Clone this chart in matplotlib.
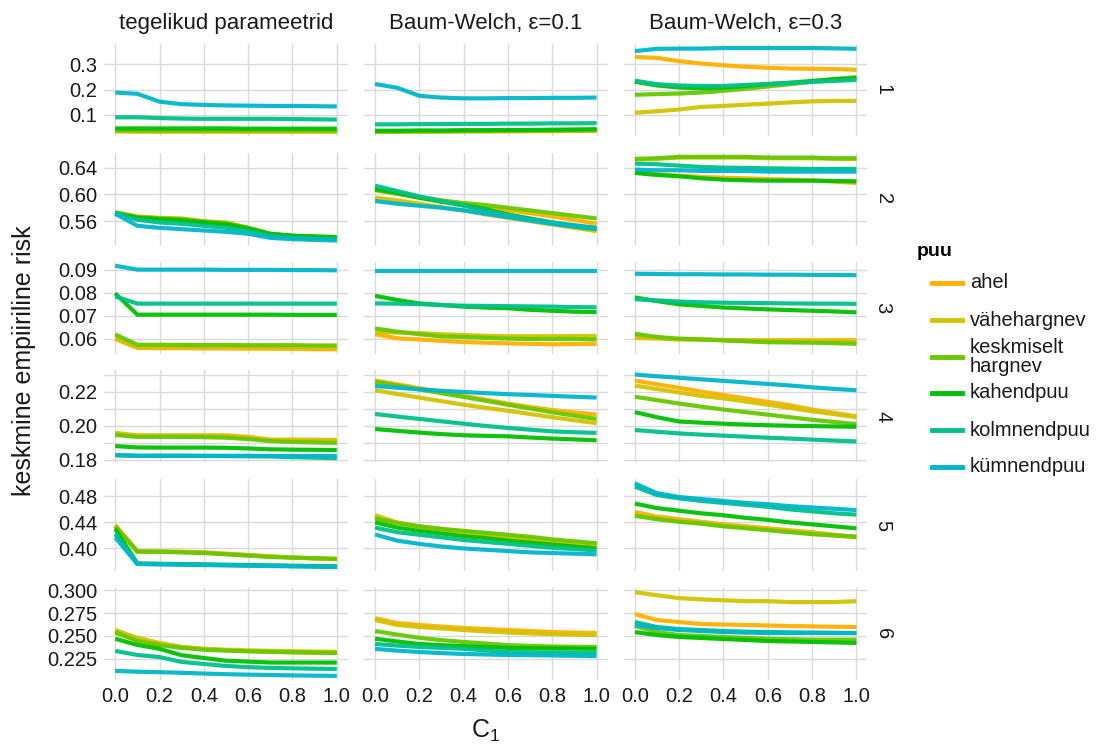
import matplotlib.pyplot as plt
from matplotlib.lines import Line2D
from matplotlib.ticker import FormatStrFormatter

plt.rcParams["font.family"] = ["Liberation Sans", "DejaVu Sans"]
plt.rcParams["mathtext.default"] = "regular"

# x values (C1)
c1 = [0.0, 0.1, 0.2, 0.3, 0.4, 0.5, 0.6, 0.7, 0.8, 0.9, 1.0]

puu = ["ahel", "vähehargnev", "keskmiselt\nhargnev", "kahendpuu", "kolmnendpuu", "kümnendpuu"]
colors = ["#FFB000", "#D2C200", "#66C800", "#00C000", "#00C08A", "#00B6CC"]

col_labels = ["tegelikud parameetrid", "Baum-Welch, ε=0.1", "Baum-Welch, ε=0.3"]
row_labels = ["1", "2", "3", "4", "5", "6"]

# each block: one list per tree type (ahel ... kümnendpuu), 11 values over c1
r1_teg = [
    [0.034, 0.033, 0.033, 0.033, 0.033, 0.033, 0.033, 0.033, 0.033, 0.033, 0.033],
    [0.036, 0.035, 0.035, 0.035, 0.035, 0.035, 0.035, 0.035, 0.035, 0.035, 0.035],
    [0.039, 0.038, 0.038, 0.038, 0.038, 0.038, 0.038, 0.038, 0.038, 0.038, 0.037],
    [0.046, 0.046, 0.046, 0.046, 0.046, 0.046, 0.045, 0.045, 0.045, 0.045, 0.045],
    [0.090, 0.090, 0.087, 0.085, 0.084, 0.084, 0.084, 0.084, 0.083, 0.082, 0.081],
    [0.188, 0.183, 0.152, 0.142, 0.139, 0.137, 0.136, 0.135, 0.135, 0.134, 0.133],
]
r1_bw1 = [
    [0.033, 0.033, 0.033, 0.034, 0.034, 0.034, 0.035, 0.035, 0.035, 0.036, 0.036],
    [0.033, 0.033, 0.034, 0.034, 0.035, 0.035, 0.035, 0.036, 0.036, 0.037, 0.037],
    [0.034, 0.034, 0.035, 0.035, 0.036, 0.037, 0.037, 0.038, 0.038, 0.039, 0.040],
    [0.037, 0.037, 0.038, 0.038, 0.039, 0.039, 0.040, 0.040, 0.041, 0.042, 0.043],
    [0.062, 0.062, 0.063, 0.063, 0.064, 0.064, 0.065, 0.065, 0.066, 0.066, 0.067],
    [0.222, 0.207, 0.175, 0.168, 0.165, 0.165, 0.166, 0.166, 0.167, 0.167, 0.168],
]
r1_bw3 = [
    [0.329, 0.325, 0.312, 0.303, 0.296, 0.290, 0.286, 0.283, 0.282, 0.281, 0.278],
    [0.108, 0.114, 0.121, 0.131, 0.135, 0.140, 0.144, 0.149, 0.153, 0.155, 0.155],
    [0.179, 0.182, 0.184, 0.188, 0.195, 0.203, 0.212, 0.221, 0.231, 0.242, 0.249],
    [0.231, 0.216, 0.208, 0.205, 0.208, 0.214, 0.221, 0.227, 0.234, 0.240, 0.245],
    [0.235, 0.221, 0.216, 0.214, 0.214, 0.218, 0.222, 0.226, 0.230, 0.234, 0.238],
    [0.352, 0.361, 0.362, 0.362, 0.364, 0.364, 0.364, 0.364, 0.364, 0.363, 0.361],
]

r2_teg = [
    [0.573, 0.567, 0.565, 0.564, 0.560, 0.558, 0.550, 0.541, 0.538, 0.536, 0.535],
    [0.572, 0.566, 0.564, 0.563, 0.559, 0.557, 0.549, 0.540, 0.538, 0.536, 0.535],
    [0.573, 0.566, 0.564, 0.563, 0.559, 0.557, 0.550, 0.541, 0.538, 0.537, 0.536],
    [0.572, 0.565, 0.563, 0.561, 0.558, 0.555, 0.549, 0.541, 0.538, 0.537, 0.536],
    [0.572, 0.562, 0.558, 0.556, 0.553, 0.550, 0.545, 0.538, 0.535, 0.534, 0.533],
    [0.571, 0.553, 0.550, 0.548, 0.546, 0.544, 0.541, 0.535, 0.533, 0.532, 0.531],
]
r2_bw1 = [
    [0.606, 0.601, 0.595, 0.589, 0.584, 0.580, 0.576, 0.572, 0.567, 0.562, 0.556],
    [0.595, 0.591, 0.586, 0.581, 0.576, 0.570, 0.565, 0.560, 0.555, 0.550, 0.545],
    [0.607, 0.601, 0.596, 0.591, 0.587, 0.584, 0.580, 0.576, 0.572, 0.568, 0.564],
    [0.608, 0.602, 0.595, 0.589, 0.584, 0.578, 0.570, 0.564, 0.558, 0.552, 0.548],
    [0.613, 0.605, 0.597, 0.590, 0.583, 0.576, 0.569, 0.563, 0.558, 0.554, 0.550],
    [0.590, 0.586, 0.583, 0.580, 0.576, 0.571, 0.566, 0.561, 0.556, 0.552, 0.549],
]
r2_bw3 = [
    [0.633, 0.630, 0.628, 0.626, 0.625, 0.624, 0.623, 0.622, 0.621, 0.619, 0.617],
    [0.652, 0.653, 0.655, 0.655, 0.655, 0.655, 0.654, 0.654, 0.654, 0.653, 0.653],
    [0.653, 0.654, 0.656, 0.656, 0.656, 0.656, 0.655, 0.655, 0.655, 0.654, 0.654],
    [0.632, 0.629, 0.627, 0.624, 0.622, 0.621, 0.6205, 0.6205, 0.6205, 0.620, 0.6195],
    [0.646, 0.645, 0.643, 0.641, 0.640, 0.6395, 0.639, 0.6385, 0.638, 0.638, 0.638],
    [0.637, 0.636, 0.636, 0.635, 0.635, 0.635, 0.634, 0.634, 0.634, 0.634, 0.634],
]

r3_teg = [
    [0.0598, 0.0559, 0.0558, 0.0558, 0.0557, 0.0557, 0.0556, 0.0556, 0.0555, 0.0554, 0.0553],
    [0.0600, 0.0563, 0.0563, 0.0563, 0.0563, 0.0563, 0.0563, 0.0563, 0.0562, 0.0562, 0.0562],
    [0.0618, 0.0573, 0.0573, 0.0572, 0.0572, 0.0572, 0.0571, 0.0571, 0.0571, 0.0570, 0.0570],
    [0.0797, 0.0704, 0.0704, 0.0704, 0.0704, 0.0704, 0.0704, 0.0704, 0.0703, 0.0703, 0.0703],
    [0.0783, 0.0752, 0.0752, 0.0752, 0.0752, 0.0752, 0.0752, 0.0752, 0.0752, 0.0752, 0.0752],
    [0.0917, 0.0900, 0.0900, 0.0900, 0.0900, 0.0899, 0.0899, 0.0899, 0.0898, 0.0898, 0.0897],
]
r3_bw1 = [
    [0.0619, 0.0601, 0.0596, 0.0590, 0.0585, 0.0582, 0.0579, 0.0577, 0.0575, 0.0576, 0.0577],
    [0.0627, 0.0626, 0.0624, 0.0619, 0.0615, 0.0612, 0.0610, 0.0610, 0.0610, 0.0611, 0.0611],
    [0.0644, 0.0630, 0.0619, 0.0609, 0.0607, 0.0603, 0.0600, 0.0598, 0.0598, 0.0598, 0.0596],
    [0.0786, 0.0768, 0.0753, 0.0746, 0.0739, 0.0735, 0.0732, 0.0725, 0.0721, 0.0717, 0.0715],
    [0.0753, 0.0752, 0.0750, 0.0746, 0.0743, 0.0742, 0.0741, 0.0740, 0.0739, 0.0737, 0.0736],
    [0.0896, 0.0896, 0.0896, 0.0896, 0.0896, 0.0896, 0.0896, 0.0896, 0.0896, 0.0896, 0.0896],
]
r3_bw3 = [
    [0.0603, 0.0600, 0.0596, 0.0595, 0.0594, 0.0593, 0.0593, 0.0593, 0.0593, 0.0593, 0.0593],
    [0.0610, 0.0604, 0.0599, 0.0596, 0.0593, 0.0591, 0.0589, 0.0587, 0.0586, 0.0585, 0.0584],
    [0.0621, 0.0607, 0.0599, 0.0596, 0.0592, 0.0588, 0.0584, 0.0583, 0.0582, 0.0580, 0.0577],
    [0.0779, 0.0763, 0.0749, 0.0742, 0.0735, 0.0731, 0.0727, 0.0724, 0.0721, 0.0718, 0.0714],
    [0.0771, 0.0766, 0.0761, 0.0758, 0.0756, 0.0755, 0.0754, 0.0753, 0.0752, 0.0752, 0.0751],
    [0.0882, 0.0881, 0.0880, 0.0880, 0.0879, 0.0879, 0.0878, 0.0878, 0.0877, 0.0877, 0.0876],
]

r4_teg = [
    [0.1958, 0.1944, 0.1944, 0.1944, 0.1944, 0.1944, 0.1935, 0.1919, 0.1919, 0.1918, 0.1917],
    [0.1953, 0.1940, 0.1940, 0.1940, 0.1940, 0.1939, 0.1930, 0.1915, 0.1914, 0.1914, 0.1913],
    [0.1946, 0.1935, 0.1935, 0.1935, 0.1933, 0.1930, 0.1922, 0.1910, 0.1905, 0.1902, 0.1900],
    [0.1881, 0.1873, 0.1872, 0.1872, 0.1872, 0.1871, 0.1867, 0.1862, 0.1860, 0.1859, 0.1858],
    [0.1827, 0.1823, 0.1823, 0.1823, 0.1823, 0.1822, 0.1821, 0.1820, 0.1816, 0.1813, 0.1810],
    [0.1829, 0.1825, 0.1825, 0.1825, 0.1824, 0.1824, 0.1824, 0.1823, 0.1823, 0.1823, 0.1823],
]
r4_bw1 = [
    [0.2265, 0.2243, 0.2220, 0.2198, 0.2175, 0.2153, 0.2130, 0.2110, 0.2092, 0.2078, 0.2065],
    [0.2208, 0.2186, 0.2165, 0.2144, 0.2123, 0.2105, 0.2088, 0.2069, 0.2050, 0.2032, 0.2015],
    [0.2258, 0.2235, 0.2213, 0.2191, 0.2169, 0.2146, 0.2123, 0.2101, 0.2079, 0.2059, 0.2040],
    [0.1981, 0.1970, 0.1960, 0.1951, 0.1944, 0.1941, 0.1938, 0.1931, 0.1925, 0.1920, 0.1915],
    [0.2069, 0.2054, 0.2040, 0.2026, 0.2012, 0.1999, 0.1987, 0.1977, 0.1967, 0.1962, 0.1958],
    [0.2233, 0.2223, 0.2213, 0.2205, 0.2198, 0.2191, 0.2185, 0.2180, 0.2175, 0.2170, 0.2165],
]
r4_bw3 = [
    [0.2265, 0.2243, 0.2222, 0.2200, 0.2180, 0.2160, 0.2140, 0.2120, 0.2095, 0.2075, 0.2055],
    [0.2235, 0.2215, 0.2195, 0.2175, 0.2160, 0.2142, 0.2123, 0.2105, 0.2085, 0.2068, 0.2050],
    [0.2170, 0.2150, 0.2130, 0.2112, 0.2095, 0.2080, 0.2065, 0.2050, 0.2035, 0.2022, 0.2010],
    [0.2080, 0.2050, 0.2025, 0.2018, 0.2012, 0.2007, 0.2003, 0.2000, 0.1998, 0.1996, 0.1994],
    [0.1975, 0.1965, 0.1955, 0.1948, 0.1942, 0.1936, 0.1930, 0.1925, 0.1919, 0.1913, 0.1908],
    [0.2300, 0.2290, 0.2281, 0.2272, 0.2263, 0.2254, 0.2245, 0.2236, 0.2225, 0.2216, 0.2208],
]

r5_teg = [
    [0.436, 0.396, 0.3955, 0.395, 0.394, 0.392, 0.390, 0.388, 0.386, 0.385, 0.384],
    [0.434, 0.3955, 0.395, 0.3945, 0.3935, 0.3915, 0.3895, 0.3875, 0.386, 0.3845, 0.3835],
    [0.434, 0.395, 0.395, 0.394, 0.393, 0.391, 0.389, 0.387, 0.386, 0.385, 0.384],
    [0.430, 0.377, 0.3765, 0.376, 0.3755, 0.375, 0.3745, 0.374, 0.3735, 0.373, 0.3725],
    [0.422, 0.3765, 0.376, 0.3755, 0.375, 0.3745, 0.374, 0.3735, 0.373, 0.3725, 0.372],
    [0.417, 0.376, 0.3755, 0.375, 0.3745, 0.374, 0.3735, 0.373, 0.3725, 0.372, 0.3715],
]
r5_bw1 = [
    [0.448, 0.439, 0.433, 0.429, 0.425, 0.421, 0.418, 0.414, 0.411, 0.408, 0.405],
    [0.451, 0.440, 0.434, 0.430, 0.426, 0.422, 0.418, 0.414, 0.411, 0.408, 0.405],
    [0.446, 0.439, 0.434, 0.430, 0.427, 0.424, 0.421, 0.418, 0.414, 0.411, 0.408],
    [0.440, 0.432, 0.427, 0.423, 0.419, 0.416, 0.412, 0.409, 0.406, 0.403, 0.400],
    [0.432, 0.425, 0.421, 0.417, 0.413, 0.410, 0.407, 0.404, 0.401, 0.399, 0.397],
    [0.4215, 0.412, 0.407, 0.403, 0.400, 0.398, 0.396, 0.394, 0.393, 0.392, 0.391],
]
r5_bw3 = [
    [0.456, 0.449, 0.445, 0.441, 0.437, 0.434, 0.431, 0.428, 0.425, 0.421, 0.418],
    [0.453, 0.446, 0.442, 0.439, 0.435, 0.432, 0.429, 0.426, 0.423, 0.420, 0.417],
    [0.450, 0.445, 0.441, 0.438, 0.434, 0.431, 0.428, 0.425, 0.422, 0.420, 0.418],
    [0.469, 0.462, 0.458, 0.454, 0.451, 0.447, 0.444, 0.440, 0.437, 0.434, 0.431],
    [0.495, 0.482, 0.477, 0.473, 0.470, 0.467, 0.464, 0.460, 0.457, 0.454, 0.452],
    [0.500, 0.485, 0.479, 0.476, 0.473, 0.470, 0.468, 0.465, 0.463, 0.461, 0.459],
]

r6_teg = [
    [0.2532, 0.2456, 0.2415, 0.2380, 0.2358, 0.2345, 0.2335, 0.2328, 0.2322, 0.2318, 0.2315],
    [0.2565, 0.2480, 0.2424, 0.2380, 0.2360, 0.2350, 0.2343, 0.2338, 0.2334, 0.2330, 0.2327],
    [0.2543, 0.2445, 0.2400, 0.2370, 0.2350, 0.2340, 0.2333, 0.2327, 0.2322, 0.2318, 0.2315],
    [0.2470, 0.2402, 0.2360, 0.2290, 0.2260, 0.2230, 0.2220, 0.2210, 0.2210, 0.2210, 0.2210],
    [0.2337, 0.2293, 0.2270, 0.2217, 0.2195, 0.2173, 0.2160, 0.2152, 0.2147, 0.2143, 0.2140],
    [0.2119, 0.2110, 0.2105, 0.2098, 0.2090, 0.2083, 0.2078, 0.2074, 0.2070, 0.2067, 0.2065],
]
r6_bw1 = [
    [0.2695, 0.2640, 0.2620, 0.2603, 0.2587, 0.2576, 0.2565, 0.2554, 0.2543, 0.2538, 0.2532],
    [0.2674, 0.2620, 0.2598, 0.2582, 0.2565, 0.2550, 0.2538, 0.2528, 0.2520, 0.2515, 0.2510],
    [0.2554, 0.2515, 0.2480, 0.2455, 0.2435, 0.2418, 0.2400, 0.2392, 0.2385, 0.2382, 0.2380],
    [0.2470, 0.2440, 0.2413, 0.2400, 0.2390, 0.2380, 0.2370, 0.2367, 0.2364, 0.2362, 0.2360],
    [0.2413, 0.2395, 0.2380, 0.2370, 0.2360, 0.2342, 0.2325, 0.2322, 0.2320, 0.2317, 0.2315],
    [0.2360, 0.2340, 0.2325, 0.2313, 0.2304, 0.2298, 0.2293, 0.2290, 0.2287, 0.2284, 0.2280],
]
r6_bw3 = [
    [0.2739, 0.2674, 0.2652, 0.2630, 0.2625, 0.2620, 0.2615, 0.2609, 0.2605, 0.2601, 0.2598],
    [0.2978, 0.2945, 0.2913, 0.2900, 0.2890, 0.2880, 0.2880, 0.2870, 0.2870, 0.2870, 0.2880],
    [0.2609, 0.2543, 0.2510, 0.2500, 0.2489, 0.2480, 0.2470, 0.2465, 0.2460, 0.2460, 0.2460],
    [0.2543, 0.2510, 0.2489, 0.2478, 0.2467, 0.2456, 0.2445, 0.2440, 0.2435, 0.2430, 0.2424],
    [0.2652, 0.2598, 0.2576, 0.2565, 0.2554, 0.2548, 0.2543, 0.2540, 0.2537, 0.2535, 0.2532],
    [0.2620, 0.2587, 0.2565, 0.2554, 0.2543, 0.2537, 0.2532, 0.2532, 0.2532, 0.2532, 0.2532],
]

risk = [
    [r1_teg, r1_bw1, r1_bw3],
    [r2_teg, r2_bw1, r2_bw3],
    [r3_teg, r3_bw1, r3_bw3],
    [r4_teg, r4_bw1, r4_bw3],
    [r5_teg, r5_bw1, r5_bw3],
    [r6_teg, r6_bw1, r6_bw3],
]

row_ticks = [
    [0.1, 0.2, 0.3],
    [0.56, 0.60, 0.64],
    [0.06, 0.07, 0.08, 0.09],
    [0.18, 0.20, 0.22],
    [0.40, 0.44, 0.48],
    [0.225, 0.250, 0.275, 0.300],
]
row_minor = [[], [], [], [0.19, 0.21, 0.23], [], []]
row_fmt = ["%.1f", "%.2f", "%.2f", "%.2f", "%.2f", "%.3f"]

grid_col = "#DADADA"
fs = 14.5

fig, axes = plt.subplots(6, 3, figsize=(10.96, 7.44), dpi=100, sharex=True, sharey="row")
fig.subplots_adjust(left=0.095, right=0.7915, top=0.941, bottom=0.086, wspace=0.066, hspace=0.183)

for i in range(6):
    for j in range(3):
        ax = axes[i, j]
        for k in range(6):
            ax.plot(c1, risk[i][j][k], color=colors[k], lw=3, alpha=0.95, solid_capstyle="butt")
        ax.set_xticks([0.0, 0.2, 0.4, 0.6, 0.8, 1.0])
        ax.set_yticks(row_ticks[i])
        ax.set_yticks(row_minor[i], minor=True)
        ax.yaxis.set_major_formatter(FormatStrFormatter(row_fmt[i]))
        ax.xaxis.set_major_formatter(FormatStrFormatter("%.1f"))
        ax.grid(True, which="both", color=grid_col, lw=1)
        ax.set_axisbelow(True)
        for s in ax.spines.values():
            s.set_visible(False)
        ax.tick_params(which="both", length=0, labelsize=fs, labelcolor="#1a1a1a", pad=5)
        if i == 0:
            ax.set_title(col_labels[j], fontsize=16, pad=11, color="#1a1a1a")
        if j == 2:
            ax.text(1.025, 0.5, row_labels[i], transform=ax.transAxes, rotation=-90,
                    ha="left", va="center", fontsize=fs, color="#1a1a1a")
    axes[i, 0].margins(x=0.05, y=0.05)

fig.text(0.022, 0.515, "keskmine empiiriline risk", rotation=90, ha="center", va="center",
         fontsize=18, color="#1a1a1a")
fig.text(0.4435, 0.018, "C$_1$", ha="center", va="center", fontsize=18, color="#1a1a1a")

# legend
fig.text(917 / 1096, 1 - 252 / 744, "puu", fontsize=14, fontweight="bold", ha="left", va="center")
leg_y = [283, 320, 357, 393, 430, 467]
for k in range(6):
    yy = 1 - leg_y[k] / 744
    fig.add_artist(Line2D([932 / 1096, 962 / 1096], [yy, yy], color=colors[k], lw=3.5))
    fig.text(970 / 1096, yy, puu[k], fontsize=fs, ha="left", va="center",
             color="#1a1a1a", linespacing=1.0)

fig.savefig("out.png", dpi=100)
